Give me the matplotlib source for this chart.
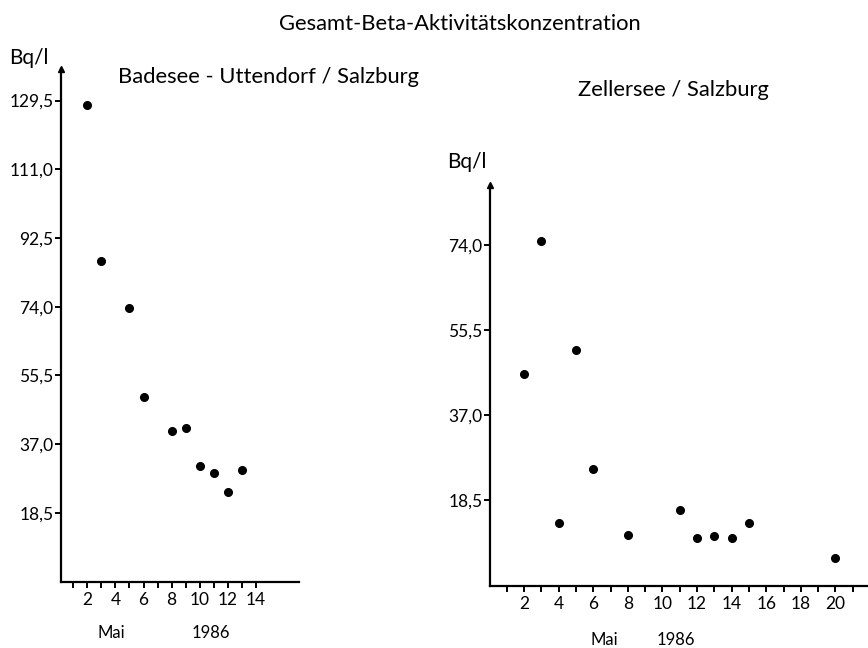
import numpy as np
import matplotlib.pyplot as plt

plt.rcParams['font.family'] = ['Lato', 'DejaVu Sans']

# Badesee - Uttendorf, Mai 1986
days_bade = [2, 3, 5, 6, 8, 9, 10, 11, 12, 13]
beta_bade = [128.3, 86.2, 73.6, 49.7, 40.6, 41.4, 31.2, 29.2, 24.0, 30.0]

# Zellersee, Mai 1986
days_zell = [2, 3, 4, 5, 6, 8, 11, 12, 13, 14, 15, 20]
beta_zell = [45.8, 75.0, 13.5, 51.1, 25.3, 10.8, 16.2, 10.2, 10.5, 10.2, 13.5, 5.7]

yticks_bade = [18.5, 37.0, 55.5, 74.0, 92.5, 111.0, 129.5]
yticks_zell = [18.5, 37.0, 55.5, 74.0]

W, H = 868, 648
fig = plt.figure(figsize=(W / 100, H / 100), dpi=100)


def px_axes(x0, y_bottom, x1, y_top):
    return fig.add_axes([x0 / W, (H - y_bottom) / H, (x1 - x0) / W, (y_bottom - y_top) / H])


def style(ax, xmax_tick, yticks):
    for s in ['top', 'right']:
        ax.spines[s].set_visible(False)
    for s in ['left', 'bottom']:
        ax.spines[s].set_linewidth(1.6)
    ax.set_xticks(range(1, xmax_tick + 1), minor=True)
    ax.set_xticks(range(2, xmax_tick + 1, 2))
    ax.set_yticks(yticks)
    ax.set_yticklabels([f"{v:.1f}".replace('.', ',') for v in yticks])
    ax.tick_params(which='both', direction='out', length=4.5, width=1.4, labelsize=12.5)
    ax.tick_params(axis='y', pad=1)
    ax.tick_params(axis='x', pad=3)
    # arrow on top of y axis
    ax.plot([0], [1], marker='^', color='black', markersize=5,
            transform=ax.transAxes, clip_on=False)


ax1 = px_axes(61, 582, 299, 69)
ax1.plot(days_bade, beta_bade, 'o', color='black', markersize=5.5)
ax1.set_xlim(0.12, 17.08)
ax1.set_ylim(-0.1, 138.0)
style(ax1, 14, yticks_bade)

ax2 = px_axes(490, 586, 868, 185)
ax2.plot(days_zell, beta_zell, 'o', color='black', markersize=5.5)
ax2.set_xlim(0.03, 21.88)
ax2.set_ylim(-0.3, 87.1)
style(ax2, 21, yticks_zell)

fig.text(460 / W, 1 - 24 / H, "Gesamt-Beta-Aktivitätskonzentration", ha='center', va='center', fontsize=15.8)
fig.text(9 / W, 1 - 58 / H, "Bq/l", ha='left', va='center', fontsize=15)
fig.text(268 / W, 1 - 77 / H, "Badesee - Uttendorf / Salzburg", ha='center', va='center', fontsize=15.8)
fig.text(673 / W, 1 - 90 / H, "Zellersee / Salzburg", ha='center', va='center', fontsize=15.8)
fig.text(447 / W, 1 - 162 / H, "Bq/l", ha='left', va='center', fontsize=15)
fig.text(111 / W, 1 - 633 / H, "Mai", ha='center', va='center', fontsize=12)
fig.text(211 / W, 1 - 633 / H, "1986", ha='center', va='center', fontsize=12)
fig.text(604 / W, 1 - 640 / H, "Mai", ha='center', va='center', fontsize=12)
fig.text(676 / W, 1 - 640 / H, "1986", ha='center', va='center', fontsize=12)

fig.savefig("out.png", dpi=100)
